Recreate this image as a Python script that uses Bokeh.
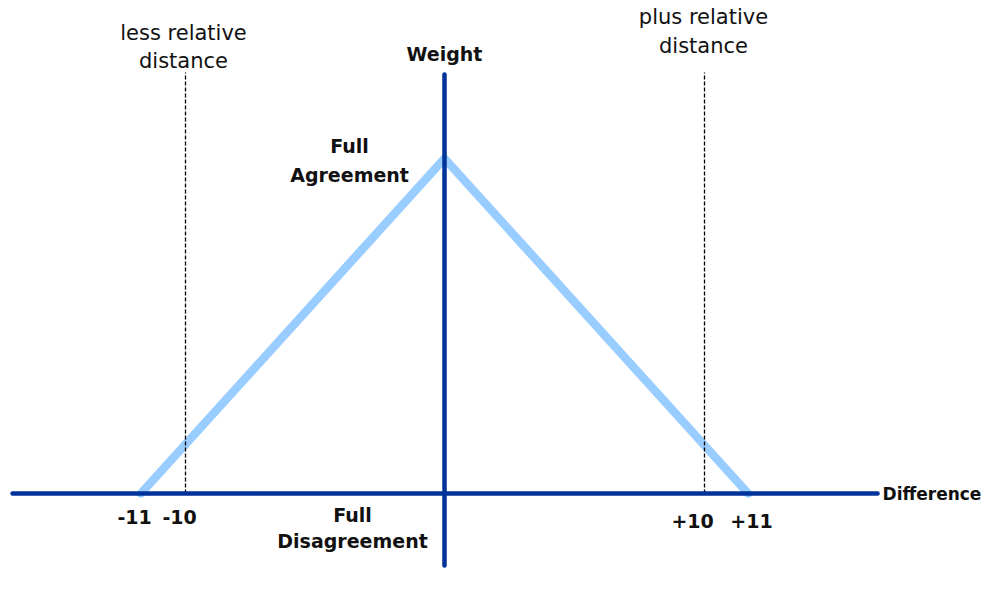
from bokeh.plotting import figure
from bokeh.models import Range1d
from bokeh.core.properties import value
from bokeh.embed import file_html
from bokeh.resources import INLINE

# Weight function (schematic): difference vs weight
diff_x = [-11, 0, 11]
weight_y = [0, 1, 0]

# threshold (relative distance) markers as drawn
threshold_x = [-9.384, 9.420]
threshold_top = 1.257

# axis extents
x_axis_span = [-15.65, 15.69]
y_axis_span = [-0.215, 1.251]

# tick labels
tick_labels = ["-11", "-10", "+10", "+11"]
tick_x = [-11.23, -9.60, 8.99, 11.12]
tick_y = [-0.0716, -0.0716, -0.0806, -0.0806]

FONT = "DejaVu Sans"
DARK = "#003399"
LIGHT = "#99CCFF"

p = figure(width=984, height=578, output_backend="svg", toolbar_location=None,
           x_range=Range1d(-16.087, 19.565), y_range=Range1d(-0.2537, 1.4716),
           min_border=0, outline_line_color=None)
p.axis.visible = False
p.grid.visible = False

# triangle
p.line(diff_x, weight_y, line_color=LIGHT, line_width=8.5, line_cap="round", line_join="miter")

# dashed threshold lines
for tx in threshold_x:
    p.line([tx, tx], [0, threshold_top], line_color="black", line_width=1.3, line_dash="4 2")

# axes
p.line(x_axis_span, [0, 0], line_color=DARK, line_width=4.5, line_cap="round")
p.line([0, 0], y_axis_span, line_color=DARK, line_width=4.5, line_cap="round")

def txt(x, y, s, bold=False, align="center", size="19px"):
    p.text(x=[x], y=[y], text=[s], text_font=value(FONT), text_font_size=size,
           text_font_style="bold" if bold else "normal", text_align=align,
           text_baseline="middle", text_color="#111111")

REG = "21px"
txt(-9.457, 1.376, "less relative", size=REG)
txt(-9.457, 1.2925, "distance", size=REG)
txt(9.384, 1.421, "plus relative", size=REG)
txt(9.384, 1.337, "distance", size=REG)
txt(0, 1.313, "Weight", bold=True)
txt(-3.44, 1.036, "Full", bold=True)
txt(-3.44, 0.952, "Agreement", bold=True)
txt(-3.333, -0.0627, "Full", bold=True)
txt(-3.333, -0.143, "Disagreement", bold=True)
txt(15.87, 0.0, "Difference", bold=True, align="left", size="17px")
for s, x, y in zip(tick_labels, tick_x, tick_y):
    txt(x, y, s, bold=True)

open("out.html", "w").write(file_html(p, INLINE))
